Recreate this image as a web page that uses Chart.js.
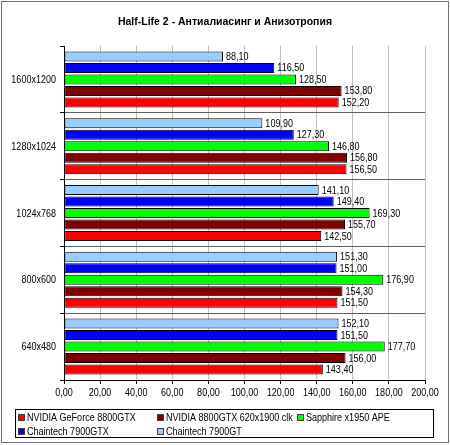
<!DOCTYPE html>
<html>
<head>
<meta charset="utf-8">
<script src="https://cdn.jsdelivr.net/npm/chart.js@4/dist/chart.umd.min.js"></script>
<style>
  html, body { margin: 0; padding: 0; background: #fff; }
  canvas { display: block; }
</style>
</head>
<body>
<canvas id="c" width="450" height="445"></canvas>
<script>
// Half-Life 2 — AA + AF, fps по разрешениям
var categories = ['1600x1200', '1280x1024', '1024x768', '800x600', '640x480'];
var xTicks = [0, 20, 40, 60, 80, 100, 120, 140, 160, 180, 200];

// серии в порядке легенды
var gf8800gtx   = [152.2, 156.5, 142.5, 151.5, 143.4];
var gf8800oc    = [153.8, 156.8, 155.7, 154.3, 156.0];
var x1950ape    = [128.5, 146.8, 169.3, 176.9, 177.7];
var ct7900gtx   = [116.5, 127.3, 149.4, 151.0, 151.5];
var ct7900gt    = [88.1, 109.9, 141.1, 151.3, 152.1];

var seriesNames = ['NVIDIA GeForce 8800GTX', 'NVIDIA 8800GTX 620x1900 clk', 'Sapphire x1950 APE', 'Chaintech 7900GTX', 'Chaintech 7900GT'];
var seriesData = [gf8800gtx, gf8800oc, x1950ape, ct7900gtx, ct7900gt];
var seriesColors = ['#ff0000', '#800000', '#00ff00', '#0000ff', '#99ccff'];

var FONT = '"Liberation Sans", Arial, sans-serif';
var SQUEEZE = 0.82; // в оригинале шрифт заметно уже Arial
var fmt = function(v) { return v.toFixed(2).replace('.', ','); };

// узкий текст: сжимаем по горизонтали относительно точки привязки
function narrowText(ctx, s, x, y, align) {
  ctx.save();
  ctx.translate(x, y);
  ctx.scale(SQUEEZE, 1);
  ctx.textAlign = align || 'left';
  ctx.textBaseline = 'middle';
  ctx.fillText(s, 0, 0);
  ctx.restore();
}

// в группе сверху вниз идёт обратный порядок, поэтому датасеты разворачиваем
var datasets = seriesNames.map(function(name, i) {
  return {
    label: name,
    data: seriesData[i],
    backgroundColor: seriesColors[i],
    borderColor: '#000',
    borderWidth: 1,
    borderSkipped: false,
    categoryPercentage: 0.86,
    barPercentage: 0.87
  };
}).reverse();

var decor = {
  id: 'decor',
  afterDatasetsDraw: function(chart) {
    var ctx = chart.ctx;
    ctx.save();
    ctx.font = '11px ' + FONT;
    ctx.fillStyle = '#000';
    chart.data.datasets.forEach(function(ds, di) {
      chart.getDatasetMeta(di).data.forEach(function(bar, j) {
        narrowText(ctx, fmt(ds.data[j]), bar.x + 3, bar.y + 0.5, 'left');
      });
    });
    ctx.restore();
  },
  afterDraw: function(chart) {
    var ctx = chart.ctx, sx = chart.scales.x, sy = chart.scales.y;
    ctx.save();
    ctx.fillStyle = '#000';

    // подписи осей
    ctx.font = '11px ' + FONT;
    xTicks.forEach(function(v) {
      narrowText(ctx, fmt(v), sx.getPixelForValue(v), sx.top + 13, 'center');
    });
    categories.forEach(function(c, i) {
      narrowText(ctx, c, sy.right - 8, sy.getPixelForValue(i) + 0.5, 'right');
    });

    // заголовок
    ctx.font = 'bold 10.5px ' + FONT;
    ctx.textAlign = 'center';
    ctx.textBaseline = 'middle';
    ctx.fillText('Half-Life 2 - Антиалиасинг и Анизотропия', 225, 22);

    // легенда — сетка 3 колонки
    ctx.strokeStyle = '#000';
    ctx.lineWidth = 1;
    ctx.strokeRect(15.5, 409.5, 418, 28);
    var cols = [18, 157, 297], rows = [417, 431];
    ctx.font = '11px ' + FONT;
    seriesNames.forEach(function(name, i) {
      var x = cols[i % 3], y = rows[Math.floor(i / 3)];
      ctx.fillStyle = seriesColors[i];
      ctx.fillRect(x, y - 3, 6, 6);
      ctx.strokeStyle = '#404040';
      ctx.strokeRect(x + 0.5, y - 2.5, 6, 6);
      ctx.fillStyle = '#000';
      narrowText(ctx, name, x + 9, y + 0.5, 'left');
    });

    // рамка всей картинки
    ctx.strokeStyle = '#707070';
    ctx.strokeRect(1.5, 1.5, 447, 441);
    ctx.restore();
  }
};

new Chart(document.getElementById('c'), {
  type: 'bar',
  data: { labels: categories, datasets: datasets },
  plugins: [decor],
  options: {
    responsive: false,
    animation: false,
    indexAxis: 'y',
    layout: { padding: { left: 0, top: 46, right: 25, bottom: 43 } },
    plugins: { legend: { display: false }, title: { display: false }, tooltip: { enabled: false } },
    scales: {
      x: {
        min: 0,
        max: 200,
        afterBuildTicks: function(scale) { scale.ticks = xTicks.map(function(v) { return { value: v }; }); },
        afterFit: function(scale) { scale.height = 22; },
        grid: { color: '#c0c0c0', tickColor: '#000', tickLength: 4, lineWidth: 1 },
        border: { color: '#000' },
        ticks: { display: false }
      },
      y: {
        afterFit: function(scale) { scale.width = 64; },
        grid: {
          offset: true,
          tickLength: 4,
          tickColor: '#000',
          color: function(c) { return c.index === 0 ? 'rgba(0,0,0,0)' : '#606060'; }
        },
        border: { color: '#000' },
        ticks: { display: false }
      }
    }
  }
});
</script>
</body>
</html>
